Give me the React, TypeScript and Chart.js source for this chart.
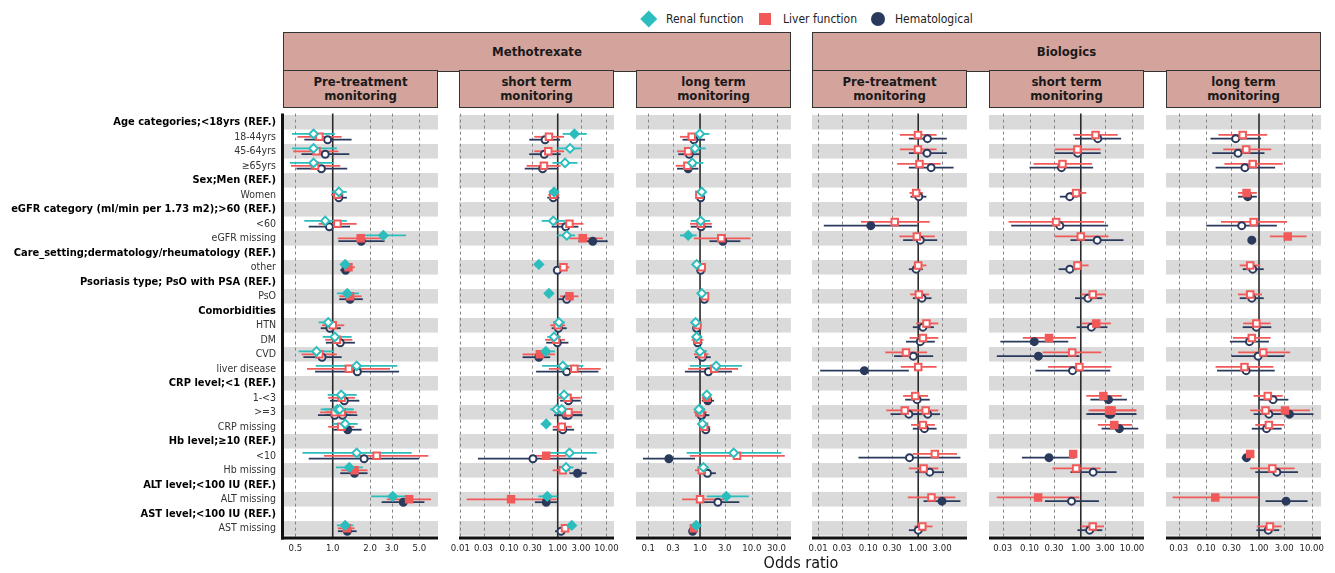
import React, { useEffect, useRef } from "react";
import { Chart, registerables } from "chart.js";

Chart.register(...registerables);

const FONT = "'DejaVu Sans Condensed', 'DejaVu Sans', sans-serif";
const TEAL = "#2CBDBD";
const RED = "#F25A5A";
const NAVY = "#2A3A5C";
const BAND = "#DADADA";
const STRIP = "#D4A39B";

// ---------- rows ----------
const rowLabels = [
  "Age categories;<18yrs (REF.)", "18-44yrs", "45-64yrs", "≥65yrs",
  "Sex;Men (REF.)", "Women",
  "eGFR category (ml/min per 1.73 m2);>60 (REF.)", "<60", "eGFR missing",
  "Care_setting;dermatology/rheumatology (REF.)", "other",
  "Psoriasis type; PsO with PSA (REF.)", "PsO",
  "Comorbidities", "HTN", "DM", "CVD", "liver disease",
  "CRP level;<1 (REF.)", "1-<3", ">=3", "CRP missing",
  "Hb level;≥10 (REF.)", "<10", "Hb missing",
  "ALT level;<100 IU (REF.)", "ALT missing",
  "AST level;<100 IU (REF.)", "AST missing",
];
const headerRows = [0, 4, 6, 9, 11, 13, 18, 22, 25, 27];

// order of the estimate rows in every series below
const dataRows = [
  "18-44yrs", "45-64yrs", "≥65yrs", "Women", "<60", "eGFR missing", "other", "PsO",
  "HTN", "DM", "CVD", "liver disease", "1-<3", ">=3", ">=3", "CRP missing",
  "<10", "Hb missing", "ALT missing", "AST missing",
];

type Est = [number, number, number, number]; // odds ratio, lower, upper, filled(1)/hollow(0)

// ---------- Methotrexate : pre-treatment ----------
const mtxPreRenal: Est[] = [
  [0.70, 0.47, 1.04, 0], [0.70, 0.47, 1.08, 0], [0.70, 0.45, 1.01, 0], [1.12, 0.98, 1.30, 0],
  [0.87, 0.59, 1.30, 0], [2.56, 1.77, 3.90, 1], [1.26, 1.15, 1.38, 1], [1.31, 1.08, 1.63, 1],
  [0.92, 0.77, 1.08, 0], [1.04, 0.83, 1.42, 0], [0.74, 0.53, 1.01, 0], [1.56, 0.73, 3.32, 0],
  [1.17, 0.91, 1.56, 0], [1.09, 0.80, 1.45, 0], [1.14, 0.85, 1.48, 0], [1.26, 1.00, 1.59, 0],
  [1.56, 0.57, 4.34, 0], [1.36, 1.06, 1.75, 1], [3.05, 2.04, 4.47, 1], [1.26, 1.08, 1.47, 1],
];
const mtxPreLiver: Est[] = [
  [0.78, 0.52, 1.18, 0], [0.74, 0.48, 1.11, 0], [0.72, 0.46, 1.15, 0], [1.09, 0.97, 1.22, 0],
  [1.09, 0.77, 1.56, 0], [1.68, 1.10, 2.50, 1], [1.34, 1.18, 1.51, 1], [1.38, 1.13, 1.71, 1],
  [1.00, 0.82, 1.24, 0], [1.08, 0.87, 1.44, 0], [0.78, 0.56, 1.08, 0], [1.35, 0.62, 2.90, 0],
  [1.18, 0.92, 1.51, 0], [1.04, 0.79, 1.45, 0], [1.18, 0.88, 1.56, 0], [1.17, 0.92, 1.49, 0],
  [2.26, 0.85, 5.91, 0], [1.50, 1.17, 1.91, 1], [4.13, 2.73, 6.21, 1], [1.30, 1.10, 1.50, 1],
];
const mtxPreHem: Est[] = [
  [0.91, 0.59, 1.42, 0], [0.87, 0.56, 1.36, 0], [0.81, 0.51, 1.31, 0], [1.12, 1.00, 1.30, 0],
  [0.94, 0.64, 1.38, 0], [1.70, 1.11, 2.62, 1], [1.27, 1.15, 1.42, 1], [1.38, 1.13, 1.75, 1],
  [0.95, 0.80, 1.16, 0], [1.15, 0.88, 1.51, 0], [0.82, 0.58, 1.18, 0], [1.58, 0.72, 3.43, 0],
  [1.24, 0.95, 1.64, 0], [1.04, 0.76, 1.40, 0], [1.20, 0.86, 1.58, 0], [1.32, 1.01, 1.71, 1],
  [1.79, 0.64, 4.97, 0], [1.50, 1.15, 1.91, 1], [3.71, 2.48, 5.49, 1], [1.31, 1.10, 1.56, 1],
];

// ---------- Methotrexate : short term ----------
const mtxShortRenal: Est[] = [
  [2.20, 1.27, 3.94, 1], [1.79, 0.99, 3.11, 0], [1.41, 0.78, 2.54, 0], [0.84, 0.72, 0.98, 1],
  [0.81, 0.47, 1.41, 0], [1.53, 0.98, 2.27, 0], [0.41, 0.38, 0.45, 1], [0.66, 0.62, 0.71, 1],
  [1.06, 0.81, 1.41, 0], [0.84, 0.61, 1.15, 0], [0.57, 0.38, 0.88, 1], [1.27, 0.48, 3.37, 0],
  [1.35, 0.99, 1.94, 0], [0.95, 0.70, 1.48, 0], [1.21, 0.85, 1.48, 0], [0.58, 0.45, 0.70, 1],
  [1.74, 0.59, 6.33, 0], [1.48, 1.08, 2.10, 0], [0.61, 0.40, 0.98, 1], [1.94, 1.66, 2.20, 1],
];
const mtxShortLiver: Est[] = [
  [0.66, 0.33, 1.35, 0], [0.64, 0.33, 1.35, 0], [0.52, 0.23, 1.15, 0], [0.81, 0.64, 1.08, 0],
  [1.74, 0.88, 3.37, 0], [3.26, 1.74, 8.41, 1], [1.31, 0.97, 1.74, 0], [1.74, 1.12, 2.66, 1],
  [1.00, 0.70, 1.41, 0], [0.92, 0.55, 1.41, 0], [0.43, 0.19, 0.88, 1], [2.20, 0.66, 7.63, 0],
  [1.58, 0.99, 2.97, 0], [1.53, 0.88, 3.11, 0], [1.66, 0.95, 3.11, 0], [1.21, 0.79, 1.94, 0],
  [0.58, 0.27, 1.50, 1], [1.27, 0.79, 1.79, 0], [0.11, 0.0135, 0.95, 1], [1.41, 1.03, 1.79, 0],
];
const mtxShortHem: Est[] = [
  [0.55, 0.26, 1.12, 0], [0.53, 0.26, 1.15, 0], [0.49, 0.21, 1.02, 0], [0.81, 0.61, 1.08, 0],
  [1.46, 0.75, 2.66, 0], [5.24, 2.66, 10.6, 1], [0.98, 0.81, 1.21, 0], [1.53, 0.98, 2.10, 0],
  [1.03, 0.75, 1.53, 0], [0.98, 0.58, 1.66, 0], [0.41, 0.19, 0.70, 1], [1.53, 0.36, 6.85, 0],
  [1.66, 1.12, 2.97, 0], [1.48, 0.84, 3.21, 0], [1.66, 0.90, 3.20, 0], [1.27, 0.79, 2.17, 0],
  [0.31, 0.023, 3.94, 0], [2.54, 1.74, 3.94, 1], [0.58, 0.34, 0.98, 1], [1.17, 0.88, 1.58, 0],
];

// ---------- Methotrexate : long term ----------
const mtxLongRenal: Est[] = [
  [0.99, 0.72, 1.52, 0], [0.80, 0.59, 1.29, 0], [0.71, 0.53, 1.16, 0], [1.08, 0.97, 1.25, 0],
  [1.03, 0.66, 1.57, 0], [0.59, 0.41, 0.86, 1], [0.86, 0.76, 0.97, 0], [1.08, 0.93, 1.25, 0],
  [0.82, 0.71, 0.96, 0], [0.86, 0.69, 1.11, 0], [1.00, 0.80, 1.35, 0], [2.05, 0.64, 6.47, 0],
  [1.35, 1.16, 1.61, 0], [1.00, 0.84, 1.25, 0], [0.95, 0.82, 1.20, 0], [1.11, 0.97, 1.29, 0],
  [4.46, 0.55, 37.3, 0], [1.16, 0.97, 1.45, 0], [3.21, 1.35, 8.74, 1], [0.84, 0.76, 0.93, 1],
];
const mtxLongLiver: Est[] = [
  [0.69, 0.41, 0.97, 0], [0.59, 0.36, 0.86, 0], [0.57, 0.34, 0.84, 0], [0.97, 0.86, 1.13, 0],
  [1.03, 0.64, 1.69, 0], [2.57, 0.76, 9.42, 0], [1.08, 0.93, 1.25, 0], [1.25, 1.08, 1.45, 0],
  [0.89, 0.74, 1.08, 0], [0.89, 0.69, 1.16, 0], [1.08, 0.76, 1.45, 0], [1.87, 0.59, 5.42, 0],
  [1.35, 1.08, 1.69, 1], [0.97, 0.76, 1.35, 0], [1.02, 0.80, 1.30, 0], [1.20, 1.03, 1.57, 0],
  [5.18, 0.64, 43.3, 0], [1.08, 0.80, 1.57, 0], [1.00, 0.45, 2.93, 0], [0.76, 0.69, 0.86, 1],
];
const mtxLongHem: Est[] = [
  [0.76, 0.46, 1.25, 0], [0.62, 0.38, 0.97, 0], [0.59, 0.36, 0.93, 1], [1.03, 0.93, 1.16, 0],
  [1.05, 0.66, 1.69, 0], [2.76, 1.52, 6.02, 1], [1.03, 0.93, 1.16, 0], [1.21, 1.05, 1.45, 0],
  [0.86, 0.74, 1.00, 0], [0.90, 0.74, 1.11, 0], [1.11, 0.80, 1.61, 0], [1.45, 0.51, 4.14, 0],
  [1.41, 1.08, 1.87, 1], [1.08, 0.84, 1.52, 0], [1.05, 0.82, 1.40, 0], [1.29, 1.08, 1.57, 0],
  [0.25, 0.079, 0.80, 1], [1.39, 1.08, 2.02, 0], [2.21, 1.03, 5.75, 0], [0.72, 0.66, 0.80, 1],
];

// ---------- Biologics : pre-treatment ----------
const bioPreLiver: Est[] = [
  [0.99, 0.43, 2.33, 0], [0.99, 0.43, 2.33, 0], [1.06, 0.38, 2.81, 0], [0.91, 0.67, 1.24, 0],
  [0.34, 0.072, 1.70, 0], [0.94, 0.42, 2.15, 0], [1.00, 0.84, 1.46, 0], [1.03, 0.69, 1.65, 0],
  [1.46, 0.91, 2.52, 0], [1.24, 0.67, 2.52, 0], [0.57, 0.22, 1.50, 0], [1.00, 0.45, 2.33, 0],
  [0.87, 0.50, 1.57, 0], [0.54, 0.23, 1.25, 0], [1.41, 0.65, 2.52, 0], [1.24, 0.72, 2.15, 0],
  [2.15, 0.78, 5.97, 0], [1.28, 0.65, 2.52, 0], [1.84, 0.62, 5.51, 0], [1.21, 0.84, 1.93, 0],
];
const bioPreHem: Est[] = [
  [1.53, 0.65, 3.73, 0], [1.50, 0.65, 3.73, 0], [1.81, 0.65, 5.10, 0], [1.03, 0.70, 1.46, 0],
  [0.113, 0.013, 0.98, 1], [1.10, 0.50, 2.40, 0], [0.91, 0.65, 1.24, 0], [1.19, 0.78, 1.84, 0],
  [1.24, 0.78, 2.06, 0], [1.10, 0.57, 2.15, 0], [0.80, 0.33, 1.99, 0], [0.084, 0.011, 0.65, 1],
  [0.95, 0.55, 1.70, 0], [0.65, 0.28, 1.40, 0], [1.55, 0.75, 2.72, 0], [1.33, 0.78, 2.33, 0],
  [0.67, 0.064, 6.97, 0], [1.70, 0.88, 3.29, 0], [2.99, 1.28, 6.97, 1], [1.00, 0.65, 1.41, 0],
];

// ---------- Biologics : short term ----------
const bioShortLiver: Est[] = [
  [1.94, 0.71, 5.25, 0], [0.86, 0.31, 2.44, 0], [0.44, 0.12, 1.66, 0], [0.81, 0.61, 1.28, 0],
  [0.33, 0.039, 2.84, 0], [1.00, 0.31, 3.47, 0], [0.86, 0.71, 1.42, 0], [1.71, 1.00, 3.07, 0],
  [2.00, 1.05, 3.86, 1], [0.24, 0.074, 0.81, 1], [0.68, 0.18, 2.51, 0], [0.94, 0.23, 3.98, 0],
  [2.76, 1.28, 6.31, 1], [3.57, 1.42, 12.2, 1], [3.98, 1.60, 12.0, 1], [4.50, 2.15, 10.0, 1],
  [0.71, 0.61, 0.83, 1], [0.81, 0.28, 2.44, 0], [0.147, 0.023, 0.94, 1], [1.71, 1.00, 2.84, 0],
];
const bioShortHem: Est[] = [
  [2.15, 0.77, 6.12, 0], [0.87, 0.31, 2.44, 0], [0.42, 0.10, 1.74, 0], [0.61, 0.39, 0.86, 0],
  [0.39, 0.044, 3.41, 0], [2.09, 0.63, 6.81, 0], [0.61, 0.37, 0.83, 0], [1.38, 0.77, 2.63, 0],
  [1.61, 0.83, 3.31, 0], [0.124, 0.027, 0.57, 1], [0.149, 0.023, 0.94, 1], [0.69, 0.13, 3.74, 0],
  [3.47, 1.54, 7.94, 1], [3.57, 1.28, 12.2, 1], [3.86, 1.40, 12.0, 1], [5.66, 2.55, 13.2, 1],
  [0.24, 0.071, 0.77, 1], [1.74, 0.63, 5.00, 0], [0.66, 0.20, 2.26, 0], [1.49, 0.86, 2.63, 0],
];

// ---------- Biologics : long term ----------
const bioLongLiver: Est[] = [
  [0.49, 0.17, 1.43, 0], [0.57, 0.21, 1.71, 0], [0.76, 0.22, 2.81, 0], [0.58, 0.40, 0.91, 1],
  [0.79, 0.19, 3.41, 0], [3.51, 1.61, 7.98, 1], [0.68, 0.43, 1.06, 0], [0.68, 0.40, 1.14, 0],
  [0.89, 0.50, 1.66, 0], [0.73, 0.32, 1.66, 0], [1.20, 0.40, 3.90, 0], [0.53, 0.15, 1.87, 0],
  [1.47, 0.79, 2.81, 0], [1.33, 0.68, 3.00, 0], [3.12, 1.30, 9.30, 1], [1.54, 0.85, 3.02, 0],
  [0.68, 0.60, 0.78, 1], [1.79, 0.68, 4.73, 0], [0.148, 0.023, 0.99, 1], [1.61, 0.91, 2.68, 0],
];
const bioLongHem: Est[] = [
  [0.36, 0.12, 1.09, 0], [0.40, 0.13, 1.27, 0], [0.54, 0.15, 2.02, 0], [0.61, 0.40, 0.91, 1],
  [0.47, 0.10, 2.18, 0], [0.73, 0.69, 0.78, 1], [0.76, 0.49, 1.23, 0], [0.73, 0.43, 1.23, 0],
  [0.89, 0.49, 1.71, 0], [0.66, 0.28, 1.54, 0], [0.96, 0.30, 3.02, 0], [0.57, 0.16, 1.99, 0],
  [1.85, 0.99, 3.61, 0], [1.54, 0.79, 3.60, 0], [3.78, 1.50, 10.8, 1], [1.39, 0.73, 2.68, 0],
  [0.58, 0.47, 0.68, 1], [2.18, 0.85, 5.50, 0], [3.26, 1.33, 8.36, 1], [1.50, 0.89, 2.42, 0],
];

// ---------- axis ticks ----------
const ticksMtxPre = [0.5, 1, 2, 3, 5];
const labelsMtxPre = ["0.5", "1.0", "2.0", "3.0", "5.0"];
const ticksMtxShort = [0.01, 0.03, 0.1, 0.3, 1, 3, 10];
const labelsMtxShort = ["0.01", "0.03", "0.10", "0.30", "1.00", "3.00", "10.00"];
const ticksMtxLong = [0.1, 0.3, 1, 3, 10, 30];
const labelsMtxLong = ["0.1", "0.3", "1.0", "3.0", "10.0", "30.0"];
const ticksBioPre = [0.01, 0.03, 0.1, 0.3, 1, 3];
const labelsBioPre = ["0.01", "0.03", "0.10", "0.30", "1.00", "3.00"];
const ticksBioLater = [0.03, 0.1, 0.3, 1, 3, 10];
const labelsBioLater = ["0.03", "0.10", "0.30", "1.00", "3.00", "10.00"];

const groupNames = ["Methotrexate", "Biologics"];
const stageNames = [["Pre-treatment", "monitoring"], ["short term", "monitoring"], ["long term", "monitoring"]];
const seriesNames = ["Renal function", "Liver function", "Hematological"];

// ---------- layout ----------
const PLOT_TOP = 107;
const PLOT_H = 430;
const XAXIS_H = 24;
const PLOT_W = 155;
const SIDE = 20;
const panelLefts = [283, 459, 636, 812, 989, 1166];

type Series = { color: string; style: string; radius: number; offset: number; values: Est[] };
type PanelCfg = { left: number; min: number; max: number; ticks: number[]; labels: string[]; series: Series[] };

const renal = (v: Est[]): Series => ({ color: TEAL, style: "rectRot", radius: 4.3, offset: -0.2, values: v });
const liver = (v: Est[], off: number): Series => ({ color: RED, style: "rect", radius: 4.6, offset: off, values: v });
const hem = (v: Est[], off: number): Series => ({ color: NAVY, style: "circle", radius: 3.5, offset: off, values: v });

const panels: PanelCfg[] = [
  { left: panelLefts[0], min: 0.397, max: 7.07, ticks: ticksMtxPre, labels: labelsMtxPre,
    series: [renal(mtxPreRenal), liver(mtxPreLiver, 0), hem(mtxPreHem, 0.2)] },
  { left: panelLefts[1], min: 0.0094, max: 14.3, ticks: ticksMtxShort, labels: labelsMtxShort,
    series: [renal(mtxShortRenal), liver(mtxShortLiver, 0), hem(mtxShortHem, 0.2)] },
  { left: panelLefts[2], min: 0.058, max: 57.1, ticks: ticksMtxLong, labels: labelsMtxLong,
    series: [renal(mtxLongRenal), liver(mtxLongLiver, 0), hem(mtxLongHem, 0.2)] },
  { left: panelLefts[3], min: 0.00755, max: 9.44, ticks: ticksBioPre, labels: labelsBioPre,
    series: [liver(bioPreLiver, -0.13), hem(bioPreHem, 0.13)] },
  { left: panelLefts[4], min: 0.0162, max: 17.1, ticks: ticksBioLater, labels: labelsBioLater,
    series: [liver(bioShortLiver, -0.13), hem(bioShortHem, 0.13)] },
  { left: panelLefts[5], min: 0.0172, max: 15.0, ticks: ticksBioLater, labels: labelsBioLater,
    series: [liver(bioLongLiver, -0.13), hem(bioLongHem, 0.13)] },
];

function Panel({ cfg, index }: { cfg: PanelCfg; index: number }) {
  const ref = useRef<HTMLCanvasElement>(null);
  const first = index === 0;
  const cLeft = first ? 0 : cfg.left - SIDE;
  const cWidth = first ? cfg.left + PLOT_W + SIDE : PLOT_W + 2 * SIDE;
  const cHeight = PLOT_H + XAXIS_H;

  useEffect(() => {
    const canvas = ref.current;
    if (!canvas) return;
    const forest = {
      id: "forest",
      beforeDatasetsDraw(chart: any) {
        const { ctx, chartArea: a } = chart;
        const x = chart.scales.x;
        const y = chart.scales.y;
        ctx.save();
        ctx.fillStyle = BAND;
        for (let i = 0; i < rowLabels.length; i += 2) {
          const t = y.getPixelForValue(i - 0.5);
          const b = y.getPixelForValue(i + 0.5);
          ctx.fillRect(a.left, t, a.right - a.left, b - t);
        }
        ctx.strokeStyle = "#858585";
        ctx.lineWidth = 1;
        ctx.setLineDash([3, 3]);
        cfg.ticks.forEach((v) => {
          if (v === 1) return;
          const px = Math.round(x.getPixelForValue(v)) + 0.5;
          ctx.beginPath();
          ctx.moveTo(px, a.top);
          ctx.lineTo(px, a.bottom);
          ctx.stroke();
        });
        ctx.setLineDash([]);
        const p1 = x.getPixelForValue(1);
        ctx.strokeStyle = "#2b2b2b";
        ctx.lineWidth = 1.6;
        ctx.beginPath();
        ctx.moveTo(p1, a.top);
        ctx.lineTo(p1, a.bottom);
        ctx.stroke();
        chart.data.datasets.forEach((ds: any) => {
          ctx.strokeStyle = ds.borderColor;
          ctx.lineWidth = 1.8;
          ds.data.forEach((p: any) => {
            const py = y.getPixelForValue(p.y);
            ctx.beginPath();
            ctx.moveTo(x.getPixelForValue(p.lo), py);
            ctx.lineTo(x.getPixelForValue(p.hi), py);
            ctx.stroke();
          });
        });
        ctx.restore();
      },
      afterDatasetsDraw(chart: any) {
        const { ctx, chartArea: a } = chart;
        ctx.save();
        ctx.strokeStyle = "#111";
        ctx.lineWidth = 3;
        ctx.beginPath();
        ctx.moveTo(first ? a.left - 2 : a.left, a.bottom + 1);
        ctx.lineTo(a.right, a.bottom + 1);
        ctx.stroke();
        if (first) {
          ctx.beginPath();
          ctx.moveTo(a.left - 0.5, a.top);
          ctx.lineTo(a.left - 0.5, a.bottom + 2.5);
          ctx.stroke();
        }
        ctx.restore();
      },
    };

    const datasets = cfg.series.map((s) => ({
      type: "scatter",
      data: s.values.map((v, i) => ({
        x: v[0],
        y: rowLabels.indexOf(dataRows[i]) + s.offset,
        lo: v[1],
        hi: v[2],
      })),
      pointStyle: s.style,
      pointRadius: s.radius,
      pointHoverRadius: s.radius,
      pointBorderWidth: 2,
      pointBackgroundColor: s.values.map((v) => (v[3] ? s.color : "#ffffff")),
      pointBorderColor: s.color,
      borderColor: s.color,
      backgroundColor: s.color,
    }));

    const chart = new Chart(canvas, {
      type: "scatter",
      data: { datasets } as any,
      options: {
        responsive: false,
        animation: false,
        events: [],
        layout: { padding: { left: first ? 0 : SIDE, right: SIDE, top: 0, bottom: 0 } },
        plugins: { legend: { display: false }, tooltip: { enabled: false } },
        scales: {
          x: {
            type: "logarithmic",
            min: cfg.min,
            max: cfg.max,
            grid: { display: false, drawTicks: false, tickLength: 0 },
            border: { display: false },
            afterBuildTicks: (s: any) => {
              s.ticks = cfg.ticks.map((v) => ({ value: v }));
            },
            afterFit: (s: any) => {
              s.height = XAXIS_H;
              s.paddingLeft = 0;
              s.paddingRight = 0;
            },
            ticks: {
              autoSkip: false,
              maxRotation: 0,
              minRotation: 0,
              padding: 6,
              color: "#1e1e1e",
              font: { family: FONT, size: 9.5 },
              callback: (_v: any, i: number) => cfg.labels[i],
            },
          },
          y: {
            type: "linear",
            min: -0.6,
            max: rowLabels.length - 0.4,
            reverse: true,
            display: first,
            grid: { display: false, drawTicks: false, tickLength: 0 },
            border: { display: false },
            afterBuildTicks: (s: any) => {
              s.ticks = rowLabels.map((_, i) => ({ value: i }));
            },
            afterFit: (s: any) => {
              s.width = first ? cfg.left : 0;
              s.paddingTop = 0;
              s.paddingBottom = 0;
            },
            ticks: {
              autoSkip: false,
              padding: 7,
              callback: (_v: any, i: number) => rowLabels[i],
              font: (c: any) =>
                headerRows.includes(c.tick?.value)
                  ? { family: FONT, size: 11, weight: "bold" }
                  : { family: FONT, size: 10.5, weight: "normal" },
              color: (c: any) => (headerRows.includes(c.tick?.value) ? "#000" : "#333"),
            },
          },
        },
      } as any,
      plugins: [forest as any],
    });
    return () => chart.destroy();
  }, []);

  return (
    <canvas
      ref={ref}
      width={cWidth}
      height={cHeight}
      style={{ position: "absolute", left: cLeft, top: PLOT_TOP, width: cWidth, height: cHeight }}
    />
  );
}

const boxStyle: React.CSSProperties = {
  position: "absolute",
  boxSizing: "border-box",
  background: STRIP,
  border: "1.5px solid #333",
  display: "flex",
  alignItems: "center",
  justifyContent: "center",
  textAlign: "center",
  fontWeight: "bold",
  fontSize: 13,
  color: "#1a1a1a",
  lineHeight: "14px",
};

export default function App() {
  useEffect(() => {
    document.body.style.margin = "0";
  }, []);

  const legendMarkers = [
    <div key="m0" style={{ position: "absolute", left: 642.5, top: 13, width: 11.5, height: 11.5, background: TEAL, transform: "rotate(45deg)" }} />,
    <div key="m1" style={{ position: "absolute", left: 759, top: 13, width: 12, height: 12, background: RED }} />,
    <div key="m2" style={{ position: "absolute", left: 870.5, top: 12, width: 14, height: 14, borderRadius: "50%", background: NAVY }} />,
  ];
  const legendTextLeft = [666, 783, 895];

  return (
    <div
      style={{
        position: "absolute",
        left: 0,
        top: 0,
        width: 1335,
        height: 573,
        overflow: "hidden",
        background: "#fff",
        fontFamily: FONT,
      }}
    >
      {legendMarkers}
      {seriesNames.map((n, i) => (
        <div key={n} style={{ position: "absolute", left: legendTextLeft[i], top: 11, fontSize: 12, lineHeight: "16px", color: "#222", whiteSpace: "nowrap" }}>
          {n}
        </div>
      ))}

      {groupNames.map((g, gi) => {
        const l = panelLefts[gi * 3];
        const r = panelLefts[gi * 3 + 2] + PLOT_W;
        return (
          <div key={g} style={{ ...boxStyle, left: l, top: 32, width: r - l, height: 39.5 }}>
            {g}
          </div>
        );
      })}
      {panelLefts.map((l, i) => (
        <div key={"s" + i} style={{ ...boxStyle, left: l, top: 70, width: PLOT_W, height: 37.5, flexDirection: "column" }}>
          <div>{stageNames[i % 3][0]}</div>
          <div>{stageNames[i % 3][1]}</div>
        </div>
      ))}

      {panels.map((p, i) => (
        <Panel key={i} cfg={p} index={i} />
      ))}

      <div style={{ position: "absolute", left: 701, top: 553, width: 200, textAlign: "center", fontSize: 16, lineHeight: "20px", color: "#111" }}>
        Odds ratio
      </div>
    </div>
  );
}
